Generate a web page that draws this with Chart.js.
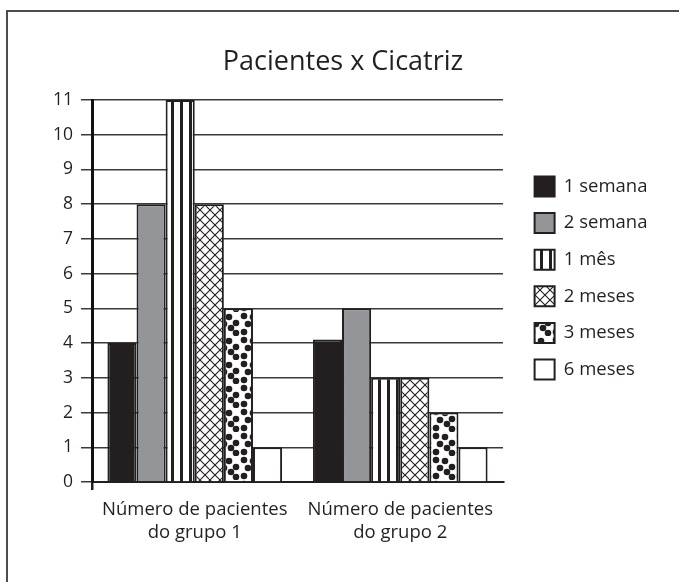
<!DOCTYPE html>
<html>
<head>
<meta charset="utf-8">
<script src="https://cdn.jsdelivr.net/npm/chart.js@4"></script>
<style>
  body { margin: 0; background: #fff; }
  #wrap { position: relative; width: 679px; height: 582px; overflow: hidden; }
  #frame { position: absolute; left: 6px; top: 10px; right: -20px; bottom: -20px;
           border-left: 2px solid #4d4d4d; border-top: 2px solid #4d4d4d; }
  canvas { position: absolute; left: 0; top: 0; }
</style>
</head>
<body>
<div id="wrap">
  <div id="frame"></div>
  <canvas id="chart" width="679" height="582"></canvas>
</div>
<script>
// --- Data ---
const categories = [['Número de pacientes', 'do grupo 1'], ['Número de pacientes', 'do grupo 2']];
const seriesNames = ['1 semana', '2 semana', '1 mês', '2 meses', '3 meses', '6 meses'];
const semana1 = [4, 4.1];
const semana2 = [8, 5];
const mes1 = [11, 3];
const meses2 = [8, 3];
const meses3 = [5, 2];
const meses6 = [1, 1];
const yMin = 0, yMax = 11, yStep = 1;

const INK = '#231f20';
const FONT = "'Open Sans', 'Noto Sans', sans-serif";

const canvas = document.getElementById('chart');
const ctx = canvas.getContext('2d');

// Build a repeating fill pattern on a small tile
function makePattern(w, h, draw) {
  const c = document.createElement('canvas');
  c.width = w; c.height = h;
  const g = c.getContext('2d');
  g.fillStyle = '#fff';
  g.fillRect(0, 0, w, h);
  g.fillStyle = INK;
  g.strokeStyle = INK;
  draw(g);
  return ctx.createPattern(c, 'repeat');
}

const stripes = makePattern(9, 9, g => g.fillRect(0, 0, 3, 9));

const crossHatch = makePattern(10, 10, g => {
  g.lineWidth = 1.1;
  g.beginPath();
  g.moveTo(-1, -1); g.lineTo(11, 11);
  g.moveTo(11, -1); g.lineTo(-1, 11);
  g.stroke();
});

const dots = makePattern(24, 24, g => {
  const spots = [[4, 4], [13, 5], [20, 11], [8, 12], [15, 16], [4, 20], [20, 21]];
  spots.forEach(([x, y]) => {
    g.beginPath();
    g.arc(x, y, 3.3, 0, Math.PI * 2);
    g.fill();
  });
});

const fills = [INK, '#939598', stripes, crossHatch, dots, '#ffffff'];
const values = [semana1, semana2, mes1, meses2, meses3, meses6];

const datasets = seriesNames.map((name, i) => ({
  label: name,
  data: values[i],
  backgroundColor: fills[i],
  borderColor: INK,
  borderWidth: 2,
  categoryPercentage: 0.85,
  barPercentage: 1
}));

// Widen the legend box so it starts further from the plot
const legendWidthPlugin = {
  id: 'legendWidth',
  beforeLayout(chart) {
    const lg = chart.legend;
    if (lg && !lg._patched) {
      const fit = lg.fit.bind(lg);
      lg.fit = function () { fit(); this.width = 161; };
      lg._patched = true;
    }
  }
};

new Chart(canvas, {
  type: 'bar',
  data: { labels: categories, datasets: datasets },
  plugins: [legendWidthPlugin],
  options: {
    responsive: false,
    animation: false,
    devicePixelRatio: 1,
    layout: { padding: { left: 7, right: 0, top: 0, bottom: 26 } },
    plugins: {
      title: {
        display: true,
        text: 'Pacientes x Cicatriz',
        color: INK,
        font: { family: FONT, size: 27, weight: 'normal' },
        padding: { top: 46, bottom: 21.6 }
      },
      legend: {
        position: 'right',
        labels: {
          color: INK,
          boxWidth: 20,
          boxHeight: 20,
          padding: 16.6,
          font: { family: FONT, size: 18.5 }
        }
      },
      tooltip: { enabled: false }
    },
    scales: {
      x: {
        // only the tick at the axis corner shows below the baseline
        grid: {
          drawOnChartArea: false,
          color: c => (c.index === 0 ? INK : 'rgba(0,0,0,0)'),
          tickLength: 8,
          lineWidth: 2.5
        },
        border: { color: INK, width: 2 },
        ticks: { color: INK, padding: 8, font: { family: FONT, size: 18.5, lineHeight: 1.25 } },
        afterFit: s => { s.height = 74; }
      },
      y: {
        min: yMin,
        max: yMax,
        ticks: { stepSize: yStep, color: INK, padding: 8, font: { family: FONT, size: 17.5 } },
        grid: { color: '#3a3a3a', lineWidth: 1.5, tickLength: 11 },
        border: { color: '#111', width: 3 },
        afterFit: s => { s.width = 85; }
      },
      spacer: {
        position: 'right',
        display: true,
        grid: { display: false },
        border: { display: false },
        ticks: { display: false },
        afterFit: s => { s.width = 15; }
      }
    }
  }
});
</script>
</body>
</html>
